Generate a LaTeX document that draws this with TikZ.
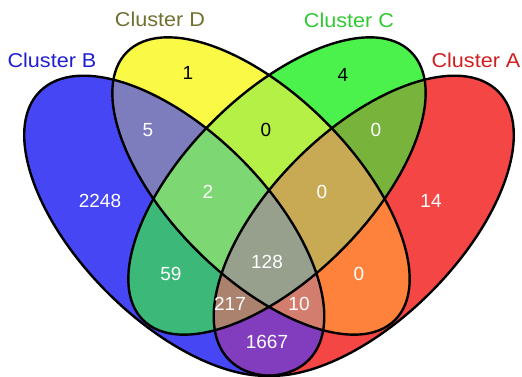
\documentclass[tikz,border=0pt]{standalone}
\usepackage{fontspec}
\setmainfont{Liberation Sans}
\definecolor{colB}{HTML}{4646F4}
\definecolor{colD}{HTML}{FAFA46}
\definecolor{colC}{HTML}{4BF24B}
\definecolor{colA}{HTML}{F54646}
\definecolor{colBD}{HTML}{7D7DBE}
\definecolor{colDC}{HTML}{B4F046}
\definecolor{colCA}{HTML}{78B43C}
\definecolor{colBC}{HTML}{3CB978}
\definecolor{colDA}{HTML}{FF823C}
\definecolor{colBA}{HTML}{823CBE}
\definecolor{colBCD}{HTML}{7DD773}
\definecolor{colDCA}{HTML}{C8AA55}
\definecolor{colABC}{HTML}{AA826E}
\definecolor{colABD}{HTML}{D27D6E}
\definecolor{colABCD}{HTML}{96A08C}
\definecolor{txtB}{HTML}{1E1ED2}
\definecolor{txtD}{HTML}{707030}
\definecolor{txtC}{HTML}{32C832}
\definecolor{txtA}{HTML}{D21E1E}
\tikzset{
  outline/.style={draw=black, line width=2.4pt},
  title/.style={font=\fontsize{20}{20}\selectfont, inner sep=0pt, xscale=1.08},
  count/.style={font=\fontsize{19}{19}\selectfont, inner sep=0pt, text=white},
  countdark/.style={count, text=black}
}
\begin{document}
\begin{tikzpicture}[x=1pt,y=1pt]
\useasboundingbox (0,0) rectangle (522,377);
\coordinate (cB) at (174.25,151.25);
\coordinate (cD) at (261,191);
\coordinate (cC) at (277,191);
\coordinate (cA) at (363.75,151.25);
\def\ellB{(cB) ellipse [x radius=190pt, y radius=94.4pt, rotate=-45]}
\def\ellD{(cD) ellipse [x radius=189.5pt, y radius=91pt, rotate=-45]}
\def\ellC{(cC) ellipse [x radius=189.5pt, y radius=91pt, rotate=45]}
\def\ellA{(cA) ellipse [x radius=190pt, y radius=94.4pt, rotate=45]}
% single sets
\fill[colB] \ellB;
\fill[colD] \ellD;
\fill[colC] \ellC;
\fill[colA] \ellA;
% pairs
\begin{scope}\clip \ellB; \fill[colBD] \ellD; \end{scope}
\begin{scope}\clip \ellD; \fill[colDC] \ellC; \end{scope}
\begin{scope}\clip \ellC; \fill[colCA] \ellA; \end{scope}
\begin{scope}\clip \ellB; \fill[colBC] \ellC; \end{scope}
\begin{scope}\clip \ellD; \fill[colDA] \ellA; \end{scope}
\begin{scope}\clip \ellB; \fill[colBA] \ellA; \end{scope}
% triples
\begin{scope}\clip \ellB; \clip \ellC; \fill[colBCD] \ellD; \end{scope}
\begin{scope}\clip \ellD; \clip \ellC; \fill[colDCA] \ellA; \end{scope}
\begin{scope}\clip \ellA; \clip \ellB; \fill[colABC] \ellC; \end{scope}
\begin{scope}\clip \ellA; \clip \ellB; \fill[colABD] \ellD; \end{scope}
% all four
\begin{scope}\clip \ellA; \clip \ellB; \clip \ellC; \fill[colABCD] \ellD; \end{scope}
% outlines
\draw[outline] \ellB;
\draw[outline] \ellD;
\draw[outline] \ellC;
\draw[outline] \ellA;
% set titles
\node[title, text=txtB] (tB) at (52,317) {Cluster B};
\node[title, text=txtD] (tD) at (160,358) {Cluster D};
\node[title, text=txtC] (tC) at (349,357) {Cluster C};
\node[title, text=txtA] (tA) at (476,317) {Cluster A};
% counts
\node[countdark] (nD) at (188,304) {1};
\node[countdark] (nC) at (343,302) {4};
\node[count] (nBD) at (148,247) {5};
\node[countdark] (nDC) at (266,247) {0};
\node[count] (nCA) at (376,247) {0};
\node[count] (nB) at (100,176) {2248};
\node[count] (nBCD) at (208,185) {2};
\node[count] (nDCA) at (322,185) {0};
\node[count] (nA) at (431,176) {14};
\node[count] (nBC) at (171,103) {59};
\node[count] (nABCD) at (267,115) {128};
\node[count] (nDA) at (359,103) {0};
\node[count] (nABC) at (230,73) {217};
\node[count] (nABD) at (299,73) {10};
\node[count] (nBA) at (267,35) {1667};
\end{tikzpicture}
\end{document}
